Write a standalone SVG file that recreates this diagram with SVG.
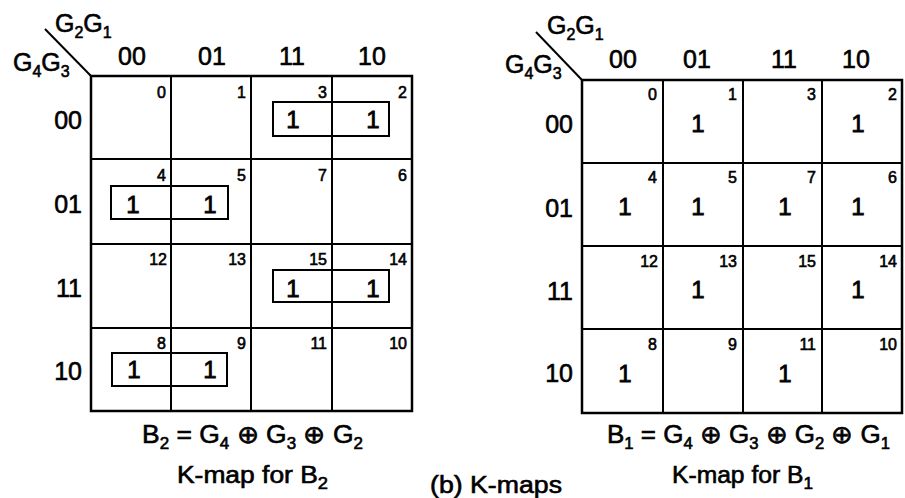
<svg xmlns="http://www.w3.org/2000/svg" width="905" height="498" viewBox="0 0 905 498">
<style>
text{font-family:"Liberation Sans",Arial,sans-serif;fill:#000;stroke:#000;stroke-width:0.6}
.hd{font-size:25px;text-anchor:middle}
.rl{font-size:25px;text-anchor:end}
.lb{font-size:25px}
.sub{font-size:16px}
.n{font-size:16px;text-anchor:end;stroke-width:0.6}
.one{font-size:24px;text-anchor:middle;stroke-width:0.8}
.cap{font-size:23px}
.grid{fill:none;stroke:#000;stroke-width:2}
.loop{fill:none;stroke:#000;stroke-width:2}
</style>
<rect width="905" height="498" fill="#fff"/>

<g id="kmap-b2">
  <g id="b2-labels">
    <text class="lb" x="55" y="32">G<tspan class="sub" dy="6">2</tspan><tspan dy="-6">G</tspan><tspan class="sub" dy="6">1</tspan></text>
    <text class="lb" x="13" y="71">G<tspan class="sub" dy="6">4</tspan><tspan dy="-6">G</tspan><tspan class="sub" dy="6">3</tspan></text>
    <text class="hd" x="132" y="65">00</text>
    <text class="hd" x="212" y="65">01</text>
    <text class="hd" x="292" y="65">11</text>
    <text class="hd" x="372" y="65">10</text>
    <text class="rl" x="82" y="129">00</text>
    <text class="rl" x="82" y="213">01</text>
    <text class="rl" x="82" y="297">11</text>
    <text class="rl" x="82" y="380">10</text>
  </g>
  <g id="b2-grid" class="grid">
    <rect x="91" y="76" width="321" height="335" stroke-width="2.5"/>
    <line x1="171" y1="76" x2="171" y2="411"/>
    <line x1="251" y1="76" x2="251" y2="411"/>
    <line x1="332" y1="76" x2="332" y2="411"/>
    <line x1="91" y1="159" x2="412" y2="159"/>
    <line x1="91" y1="244" x2="412" y2="244"/>
    <line x1="91" y1="328" x2="412" y2="328"/>
  </g>
  <g id="b2-cellnums">
    <text class="n" x="166" y="98">0</text>
    <text class="n" x="246" y="98">1</text>
    <text class="n" x="327" y="98">3</text>
    <text class="n" x="407" y="98">2</text>
    <text class="n" x="166" y="181">4</text>
    <text class="n" x="246" y="181">5</text>
    <text class="n" x="327" y="181">7</text>
    <text class="n" x="407" y="181">6</text>
    <text class="n" x="167" y="265">12</text>
    <text class="n" x="246" y="265">13</text>
    <text class="n" x="327" y="265">15</text>
    <text class="n" x="407" y="265">14</text>
    <text class="n" x="166" y="349">8</text>
    <text class="n" x="246" y="349">9</text>
    <text class="n" x="327" y="349">11</text>
    <text class="n" x="407" y="349">10</text>
  </g>
  <g id="b2-ones">
    <text class="one" x="293" y="128">1</text>
    <text class="one" x="373" y="128">1</text>
    <text class="one" x="133" y="213">1</text>
    <text class="one" x="210" y="213">1</text>
    <text class="one" x="293" y="297">1</text>
    <text class="one" x="373" y="297">1</text>
    <text class="one" x="134" y="378">1</text>
    <text class="one" x="210" y="378">1</text>
  </g>
  <g id="b2-loops" class="loop">
    <rect x="273" y="102" width="116" height="34"/>
    <rect x="111" y="186" width="117" height="33"/>
    <rect x="273" y="270" width="116" height="32"/>
    <rect x="112" y="353" width="115" height="33"/>
  </g>
  <text class="lb" x="142" y="443" textLength="221" lengthAdjust="spacingAndGlyphs">B<tspan class="sub" dy="6">2</tspan><tspan dy="-6"> = G</tspan><tspan class="sub" dy="6">4</tspan><tspan dy="-6"> ⊕ G</tspan><tspan class="sub" dy="6">3</tspan><tspan dy="-6"> ⊕ G</tspan><tspan class="sub" dy="6">2</tspan></text>
  <text class="cap" x="177" y="483" textLength="151" lengthAdjust="spacingAndGlyphs">K-map for B<tspan class="sub" dy="6">2</tspan></text>
</g>

<g id="kmap-b1">
  <g id="b1-labels">
    <text class="lb" x="547" y="34">G<tspan class="sub" dy="6">2</tspan><tspan dy="-6">G</tspan><tspan class="sub" dy="6">1</tspan></text>
    <text class="lb" x="505" y="73">G<tspan class="sub" dy="6">4</tspan><tspan dy="-6">G</tspan><tspan class="sub" dy="6">3</tspan></text>
    <text class="hd" x="623" y="68">00</text>
    <text class="hd" x="697" y="68">01</text>
    <text class="hd" x="784" y="68">11</text>
    <text class="hd" x="856" y="68">10</text>
    <text class="rl" x="573" y="133">00</text>
    <text class="rl" x="573" y="217">01</text>
    <text class="rl" x="573" y="300">11</text>
    <text class="rl" x="573" y="382">10</text>
  </g>
  <g id="b1-grid" class="grid">
    <rect x="582" y="80" width="320" height="333" stroke-width="2.5"/>
    <line x1="663" y1="80" x2="663" y2="413"/>
    <line x1="743" y1="80" x2="743" y2="413"/>
    <line x1="822" y1="80" x2="822" y2="413"/>
    <line x1="582" y1="163" x2="902" y2="163"/>
    <line x1="582" y1="246" x2="902" y2="246"/>
    <line x1="582" y1="329" x2="902" y2="329"/>
  </g>
  <g id="b1-cellnums">
    <text class="n" x="657" y="100">0</text>
    <text class="n" x="737" y="100">1</text>
    <text class="n" x="816" y="100">3</text>
    <text class="n" x="897" y="100">2</text>
    <text class="n" x="657" y="183">4</text>
    <text class="n" x="737" y="183">5</text>
    <text class="n" x="816" y="183">7</text>
    <text class="n" x="897" y="183">6</text>
    <text class="n" x="658" y="267">12</text>
    <text class="n" x="737" y="267">13</text>
    <text class="n" x="816" y="267">15</text>
    <text class="n" x="897" y="267">14</text>
    <text class="n" x="657" y="350">8</text>
    <text class="n" x="737" y="350">9</text>
    <text class="n" x="816" y="350">11</text>
    <text class="n" x="897" y="350">10</text>
  </g>
  <g id="b1-ones">
    <text class="one" x="698" y="132">1</text>
    <text class="one" x="858" y="132">1</text>
    <text class="one" x="625" y="215">1</text>
    <text class="one" x="698" y="215">1</text>
    <text class="one" x="785" y="215">1</text>
    <text class="one" x="858" y="215">1</text>
    <text class="one" x="698" y="298">1</text>
    <text class="one" x="858" y="298">1</text>
    <text class="one" x="625" y="382">1</text>
    <text class="one" x="785" y="382">1</text>
  </g>
  <text class="lb" x="607" y="443" textLength="283" lengthAdjust="spacingAndGlyphs">B<tspan class="sub" dy="6">1</tspan><tspan dy="-6"> = G</tspan><tspan class="sub" dy="6">4</tspan><tspan dy="-6"> ⊕ G</tspan><tspan class="sub" dy="6">3</tspan><tspan dy="-6"> ⊕ G</tspan><tspan class="sub" dy="6">2</tspan><tspan dy="-6"> ⊕ G</tspan><tspan class="sub" dy="6">1</tspan></text>
  <text class="cap" x="672" y="483" textLength="141" lengthAdjust="spacingAndGlyphs">K-map for B<tspan class="sub" dy="6">1</tspan></text>
</g>

<g id="connectors" stroke="#000" stroke-width="2" fill="none">
  <line x1="45" y1="29" x2="91" y2="76"/>
  <line x1="536" y1="32" x2="582" y2="80"/>
</g>

<text class="cap" x="430" y="493" textLength="132" lengthAdjust="spacingAndGlyphs">(b) K-maps</text>
</svg>
